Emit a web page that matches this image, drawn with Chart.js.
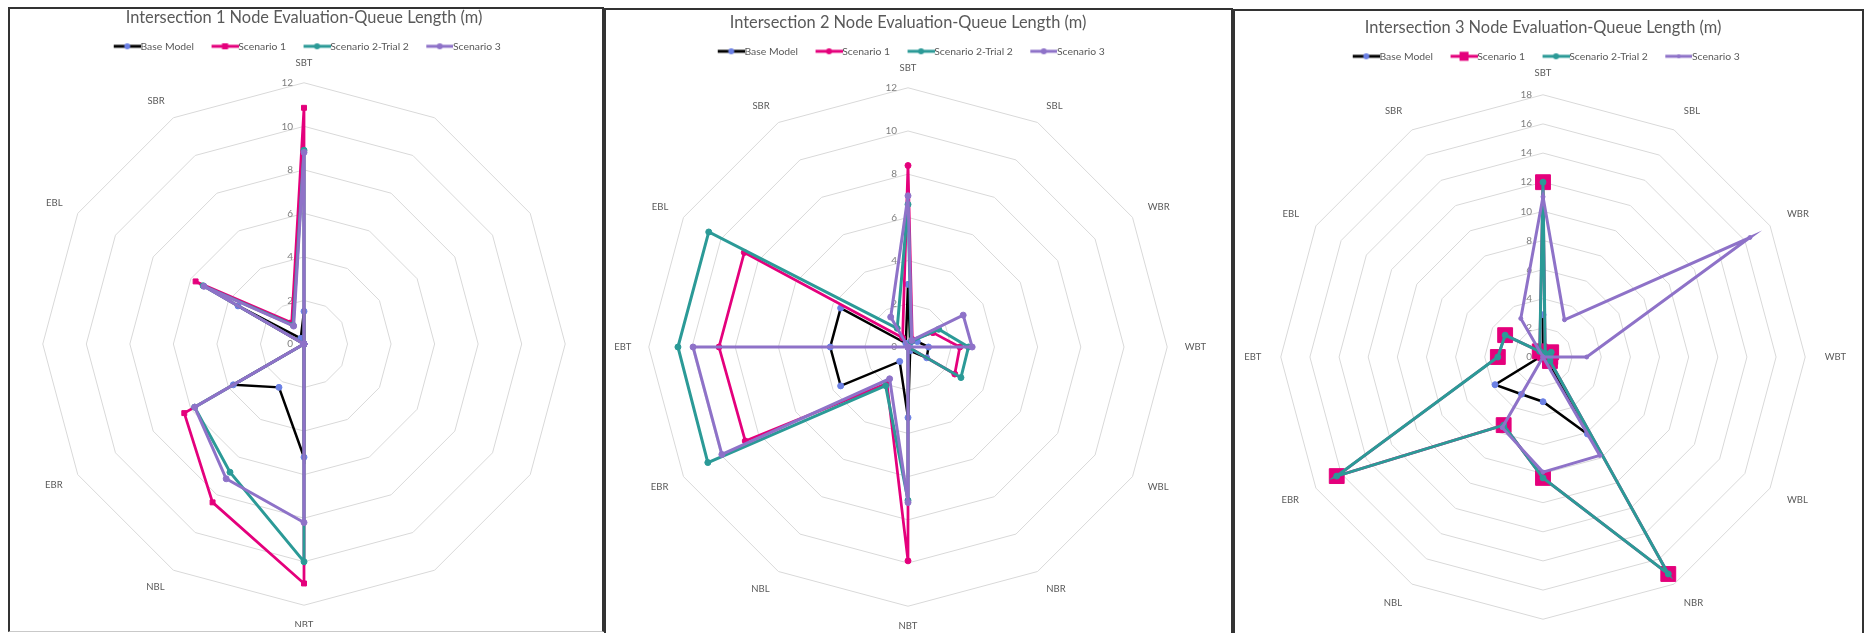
<!DOCTYPE html>
<html>
<head>
<meta charset="utf-8">
<script src="https://cdn.jsdelivr.net/npm/chart.js@4.4.1/dist/chart.umd.min.js"></script>
<style>
  html, body { margin: 0; padding: 0; background: #ffffff; }
  body { position: relative; width: 1866px; height: 633px; overflow: hidden; }
  .frame { position: absolute; box-sizing: border-box; border: 2px solid #333333; }
  .plot { position: absolute; }
  .plot canvas { display: block; }
</style>
</head>
<body>
<div class="frame" style="left:8px; top:7px; width:596px; height:625px; border-bottom:1px solid #c9c9c9;"></div>
<div class="frame" style="left:604px; top:8px; width:629px; height:700px;"></div>
<div class="frame" style="left:1233px; top:9px; width:631px; height:700px;"></div>

<div class="plot" style="left:-26px; top:8px;"><canvas id="chart1" width="660" height="619"></canvas></div>
<div class="plot" style="left:578px; top:13px;"><canvas id="chart2" width="660" height="616"></canvas></div>
<div class="plot" style="left:1213px; top:18px;"><canvas id="chart3" width="660" height="626"></canvas></div>

<script>
// Approach lanes, clockwise from the top of each radar
const laneLabels = ['SBT', 'SBL', 'WBR', 'WBT', 'WBL', 'NBR', 'NBT', 'NBL', 'EBR', 'EBT', 'EBL', 'SBR'];
// Intersection 1 has no west approach, so those spokes stay unlabelled
const laneLabelsI1 = ['SBT', '', '', '', '', '', 'NBT', 'NBL', 'EBR', '', 'EBL', 'SBR'];

const seriesNames = ['Base Model', 'Scenario 1', 'Scenario 2-Trial 2', 'Scenario 3'];

const titleI1 = 'Intersection 1 Node Evaluation-Queue Length (m)';
const titleI2 = 'Intersection 2 Node Evaluation-Queue Length (m)';
const titleI3 = 'Intersection 3 Node Evaluation-Queue Length (m)';

// Radial tick values
const ticksI1 = [0, 2, 4, 6, 8, 10, 12];
const ticksI2 = [0, 2, 4, 6, 8, 10, 12];
const ticksI3 = [0, 2, 4, 6, 8, 10, 12, 14, 16, 18];

// Queue lengths (m), in laneLabels order
const i1Base      = [1.5, 0, 0, 0, 0, 0, 5.2, 2.3, 3.75, 0, 3.5, 0.3];
const i1Scenario1 = [10.85, 0, 0, 0, 0, 0, 11.0, 8.4, 6.35, 0, 5.75, 1.13];
const i1Scenario2 = [8.9, 0, 0, 0, 0, 0, 10.0, 6.8, 5.8, 0, 5.35, 1.0];
const i1Scenario3 = [8.8, 0, 0, 0, 0, 0, 8.2, 7.15, 5.8, 0, 5.3, 0.95];

const i2Base      = [2.9, 0.2, 0.5, 0.95, 1.0, 0.2, 3.27, 0.77, 3.6, 3.6, 3.6, 0.2];
const i2Scenario1 = [8.4, 0.4, 1.33, 2.4, 2.5, 0, 9.9, 1.95, 8.7, 8.75, 8.75, 0.5];
const i2Scenario2 = [6.6, 0.3, 1.64, 2.8, 2.83, 0, 7.1, 2.07, 10.7, 10.65, 10.65, 1.0];
const i2Scenario3 = [7.0, 0.35, 2.95, 2.97, 0, 0, 7.2, 1.7, 9.95, 9.95, 0, 1.6];

const i3Base      = [2.9, 0, 0, 0, 0.3, 6.1, 3.07, 2.95, 3.8, 0.2, 0, 0];
const i3Scenario1 = [12.0, 0.3, 0.65, 0.5, 0.55, 17.2, 8.3, 5.4, 16.35, 3.1, 3.0, 0.45];
const i3Scenario2 = [12.0, 0.3, 0.65, 0.5, 0.55, 17.2, 8.3, 5.4, 16.35, 3.1, 3.0, 0.45];
const i3Scenario3 = [11.0, 2.95, 16.4, 3.0, 0, 7.8, 7.9, 5.6, 0, 0, 0, 3.05];

// Line / marker look of each series
const lineColors   = ['#000000', '#e4007c', '#2b9a97', '#8e72c8'];
const markerColors = ['#6b80e4', '#e4007c', '#2b9a97', '#8e72c8'];
const lineWidths   = [2.5, 2.75, 3, 3];

const fontStack = 'Lato, "Open Sans", sans-serif';
Chart.defaults.font.family = fontStack;
Chart.defaults.color = '#595959';

// Legend swatch: a short line with the series marker in its middle
function legendSwatch(i, shape, size) {
  const c = document.createElement('canvas');
  c.width = 39; c.height = 14;
  const g = c.getContext('2d');
  g.strokeStyle = lineColors[i];
  g.lineWidth = 3;
  g.beginPath(); g.moveTo(12, 7); g.lineTo(39, 7); g.stroke();
  g.fillStyle = markerColors[i];
  const cx = 25.5;
  if (shape === 'rect') {
    g.fillRect(cx - size / 2, 7 - size / 2, size, size);
  } else {
    g.beginPath(); g.arc(cx, 7, size / 2, 0, Math.PI * 2); g.fill();
  }
  return c;
}

// Radial value labels sit just left of the vertical spoke
const tickLabelPlugin = {
  id: 'tickLabelsLeft',
  beforeDatasetsDraw(chart) {
    const s = chart.scales.r;
    const ctx = chart.ctx;
    ctx.save();
    ctx.font = '10px ' + fontStack;
    ctx.fillStyle = '#808080';
    ctx.textAlign = 'right';
    ctx.textBaseline = 'middle';
    s.ticks.forEach(t => {
      const d = s.getDistanceFromCenterForValue(t.value);
      ctx.fillText(t.label, s.xCenter - 11, s.yCenter - d);
    });
    ctx.restore();
  }
};

function buildRadar(id, title, labels, series, ticks, markers, labelPad) {
  const datasets = series.map((values, i) => ({
    label: seriesNames[i],
    data: values,
    borderColor: lineColors[i],
    borderWidth: lineWidths[i],
    backgroundColor: 'transparent',
    fill: false,
    tension: 0,
    pointStyle: markers[i].shape === 'rect' ? 'rect' : 'circle',
    pointRadius: markers[i].radius,
    pointBorderWidth: 1,
    pointBackgroundColor: markerColors[i],
    pointBorderColor: markerColors[i],
    order: series.length - i
  }));
  const swatches = markers.map((m, i) => legendSwatch(i, m.shape, m.legendSize));

  return new Chart(document.getElementById(id), {
    type: 'radar',
    data: { labels, datasets },
    plugins: [tickLabelPlugin],
    options: {
      responsive: false,
      animation: false,
      devicePixelRatio: 1,
      layout: { padding: 0 },
      plugins: {
        tooltip: { enabled: false },
        title: {
          display: true,
          text: title,
          color: '#595959',
          font: { size: 16.4, weight: 'normal', lineHeight: 1.2 },
          padding: { top: 0, bottom: 2.4 }
        },
        legend: {
          display: true,
          position: 'top',
          labels: {
            usePointStyle: true,
            pointStyleWidth: 28,
            padding: 11,
            color: '#595959',
            font: { size: 10.4 },
            generateLabels: (chart) => chart.data.datasets.map((ds, i) => ({
              text: ds.label,
              pointStyle: swatches[i],
              datasetIndex: i,
              hidden: false,
              lineWidth: 0,
              fillStyle: 'transparent',
              strokeStyle: 'transparent',
              fontColor: '#595959'
            }))
          }
        }
      },
      scales: {
        r: {
          min: 0,
          max: ticks[ticks.length - 1],
          ticks: { display: false, stepSize: ticks[1] - ticks[0] },
          grid: { color: '#d9d9d9', lineWidth: 1 },
          angleLines: { display: false },
          pointLabels: {
            color: '#595959',
            font: { size: 9.5, lineHeight: 0.4 },
            padding: labelPad
          }
        }
      }
    }
  });
}

const dot = (r) => ({ shape: 'circle', radius: r, legendSize: 6 });
const square = (r, legendSize) => ({ shape: 'rect', radius: r, legendSize });

buildRadar('chart1', titleI1, laneLabelsI1,
  [i1Base, i1Scenario1, i1Scenario2, i1Scenario3], ticksI1,
  [dot(3), square(3.5, 6), dot(3), dot(3)], 17.5);

buildRadar('chart2', titleI2, laneLabels,
  [i2Base, i2Scenario1, i2Scenario2, i2Scenario3], ticksI2,
  [dot(3), dot(3), dot(3), dot(3)], 17.5);

buildRadar('chart3', titleI3, laneLabels,
  [i3Base, i3Scenario1, i3Scenario2, i3Scenario3], ticksI3,
  [dot(3), square(10.5, 9), dot(3), { shape: 'circle', radius: 2, legendSize: 4 }], 19.5);
</script>
</body>
</html>
